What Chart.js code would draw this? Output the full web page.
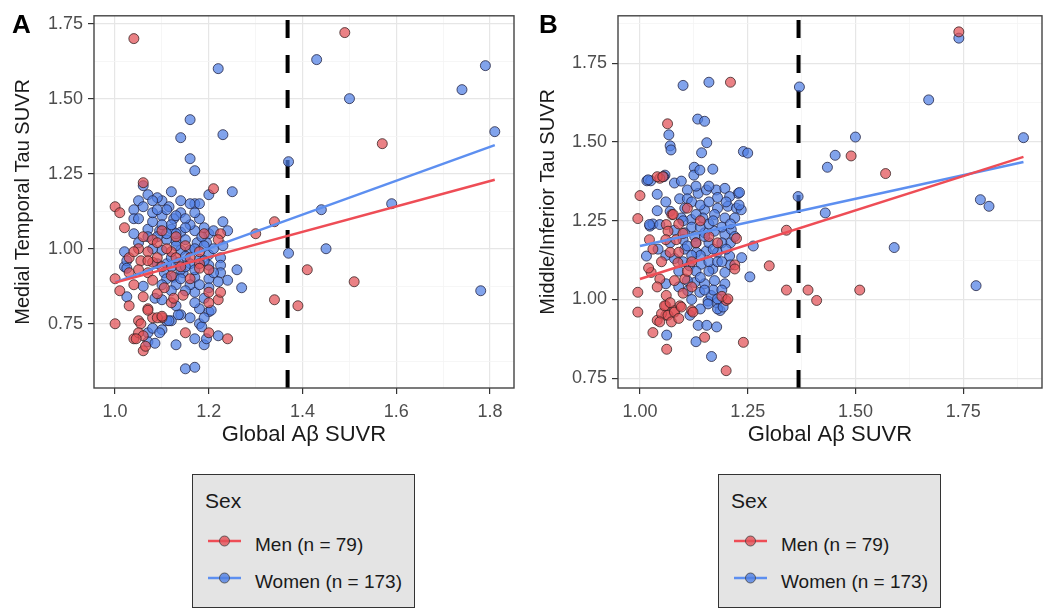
<!DOCTYPE html>
<html>
<head>
<meta charset="utf-8">
<script src="https://cdn.jsdelivr.net/npm/chart.js@4/dist/chart.umd.min.js"></script>
<style>
  body { margin: 0; background: #fff; width: 1050px; height: 615px; position: relative; overflow: hidden;
         font-family: "Liberation Sans", Arial, sans-serif; color: #1a1a1a; }
  .panel { position: absolute; top: 0; width: 525px; height: 470px; }
  .tag { position: absolute; top: 11px; font: bold 26px/1 "Liberation Sans", Arial, sans-serif; color: #000; }
  .legend { position: absolute; top: 474px; width: 223px; height: 134px; box-sizing: border-box;
            background: #e4e4e4; border: 1.5px solid #333; }
  .legend .ttl { position: absolute; left: 12px; top: 15px; font-size: 21px; line-height: 1; }
  .legend .lab { position: absolute; left: 62px; font-size: 19px; line-height: 1; }
  .legend svg { position: absolute; left: 14px; }
</style>
</head>
<body>

<div class="panel" style="left:0"><canvas id="chartA" width="525" height="470"></canvas></div>
<div class="panel" style="left:525px"><canvas id="chartB" width="525" height="470"></canvas></div>
<div class="tag" style="left:12px">A</div>
<div class="tag" style="left:539px">B</div>

<div class="legend" style="left:192px">
  <div class="ttl">Sex</div>
  <svg width="36" height="14" style="top:59px"><line x1="1" y1="7" x2="34" y2="7" stroke="#ee4d56" stroke-width="2.5"/><circle cx="17.5" cy="7" r="5" fill="rgba(226,80,86,0.8)" stroke="#444" stroke-width="0.8"/></svg>
  <div class="lab" style="top:60px">Men (n = 79)</div>
  <svg width="36" height="14" style="top:96px"><line x1="1" y1="7" x2="34" y2="7" stroke="#5d8ff0" stroke-width="2.5"/><circle cx="17.5" cy="7" r="5" fill="rgba(80,128,228,0.8)" stroke="#444" stroke-width="0.8"/></svg>
  <div class="lab" style="top:97px">Women (n = 173)</div>
</div>
<div class="legend" style="left:718px">
  <div class="ttl">Sex</div>
  <svg width="36" height="14" style="top:59px"><line x1="1" y1="7" x2="34" y2="7" stroke="#ee4d56" stroke-width="2.5"/><circle cx="17.5" cy="7" r="5" fill="rgba(226,80,86,0.8)" stroke="#444" stroke-width="0.8"/></svg>
  <div class="lab" style="top:60px">Men (n = 79)</div>
  <svg width="36" height="14" style="top:96px"><line x1="1" y1="7" x2="34" y2="7" stroke="#5d8ff0" stroke-width="2.5"/><circle cx="17.5" cy="7" r="5" fill="rgba(80,128,228,0.8)" stroke="#444" stroke-width="0.8"/></svg>
  <div class="lab" style="top:97px">Women (n = 173)</div>
</div>

<script>
// amyloid positivity cut-off (dashed line), same in both panels
const abThreshold = 1.368;

// Panel A: global Abeta SUVR vs medial temporal tau SUVR
const menA = [
  [1.04,1.70],[1.49,1.72],[1.57,1.35],[1.51,0.89],[1.41,0.93],[1.39,0.81],[1.34,0.83],[1.34,1.09],
  [1.30,1.05],[1.21,1.20],[1.06,1.22],[1.00,1.14],[1.01,1.12],[1.02,1.07],[1.00,0.90],[1.01,0.86],
  [1.03,0.81],[1.00,0.75],[1.15,0.72],[1.20,0.72],[1.24,0.70],[1.06,0.66],[1.04,0.70],[1.05,0.76],
  [1.07,0.80],[1.08,0.77],[1.10,0.77],[1.12,0.82],[1.20,0.82],[1.22,0.83],
  [1.19,1.05],[1.225,1.05],[1.06,1.04],[1.08,1.03],[1.22,1.03],[1.05,1.00],[1.07,0.99],[1.12,0.99],
  [1.18,0.99],[1.055,0.96],[1.08,0.955],[1.18,0.95],[1.05,0.93],[1.07,0.92],[1.08,0.895],[1.18,0.935],
  [1.105,0.87],[1.125,0.835],[1.145,0.845],[1.20,0.855],[1.225,0.855],[1.07,0.795],[1.09,0.77],
  [1.10,0.775],[1.055,0.75],[1.05,0.72],[1.06,0.71],[1.045,0.70],[1.065,0.675],
  [1.09,0.97],[1.10,0.94],[1.13,0.97],[1.15,1.01],[1.03,0.97],[1.04,0.88],[1.09,1.02],[1.16,0.90],
  [1.06,0.84],[1.11,1.00],[1.14,0.94],[1.12,0.91],[1.07,0.96],[1.16,0.97],[1.09,0.85],[1.03,0.92],
  [1.13,1.04],[1.10,1.06],[1.20,0.93],[1.04,0.99]
];
const womenA = [
  [1.22,1.60],[1.43,1.63],[1.50,1.50],[1.74,1.53],[1.79,1.61],[1.81,1.39],[1.78,0.86],[1.59,1.15],
  [1.45,1.00],[1.44,1.13],[1.37,1.29],[1.37,0.985],[1.16,1.43],[1.14,1.37],[1.16,1.30],[1.17,1.26],
  [1.23,1.38],[1.25,1.19],[1.20,1.18],[1.17,1.15],[1.18,1.15],[1.27,0.87],[1.26,0.93],[1.23,1.09],
  [1.24,1.06],[1.06,1.21],[1.04,1.13],[1.04,1.10],[1.02,0.99],[1.02,0.94],
  [1.15,0.60],[1.17,0.605],[1.13,0.68],[1.18,0.75],[1.22,0.71],[1.19,0.68],[1.17,0.70],[1.14,0.78],
  [1.12,0.76],[1.10,0.73],[1.07,0.72],[1.07,0.69],[1.20,0.79],
  [1.07,1.18],[1.10,1.16],[1.115,1.14],[1.10,1.11],[1.14,1.12],[1.125,1.10],[1.05,1.10],[1.07,1.065],
  [1.095,1.06],[1.12,1.065],[1.14,1.055],[1.17,1.06],[1.20,1.05],[1.04,1.05],[1.11,1.03],[1.13,1.025],
  [1.15,1.03],[1.175,1.02],[1.195,1.02],[1.10,0.995],[1.14,0.995],[1.16,0.995],[1.20,0.98],[1.225,0.97],
  [1.025,0.96],[1.11,0.95],[1.135,0.955],[1.16,0.95],[1.20,0.945],[1.225,0.945],[1.025,0.935],[1.105,0.92],
  [1.125,0.905],[1.145,0.92],[1.17,0.905],[1.20,0.90],[1.225,0.92],[1.24,0.895],[1.025,0.84],[1.06,0.875],
  [1.085,0.835],[1.17,0.855],[1.19,0.835],[1.18,0.80],[1.205,0.795],[1.17,0.82],[1.11,0.76],[1.135,0.78],
  [1.08,0.735],[1.095,0.72],[1.085,0.685],[1.115,0.76],[1.185,0.74],[1.195,0.70],
  [1.12,1.08],[1.16,1.08],[1.18,1.10],[1.08,1.09],[1.13,1.05],[1.185,1.04],[1.09,1.04],[1.15,0.975],
  [1.12,0.97],[1.18,0.965],[1.09,0.95],[1.14,0.93],[1.21,0.92],[1.13,0.88],[1.16,0.88],[1.20,0.87],
  [1.22,0.89],[1.11,0.90],[1.15,0.86],[1.21,1.00],[1.23,1.01],[1.19,1.07],[1.05,1.16],[1.06,1.14],
  [1.08,1.12],[1.09,1.17],[1.12,1.19],[1.11,1.13],[1.15,1.10],[1.17,1.12],[1.10,1.08],[1.08,1.16],
  [1.11,1.05],[1.13,1.01],[1.17,1.00],[1.19,1.01],[1.12,0.94],[1.15,0.94],[1.17,0.93],[1.19,0.96],
  [1.10,0.88],[1.12,0.86],[1.14,0.90],[1.18,0.88],[1.13,1.11],[1.16,1.15],[1.09,1.13],[1.14,1.16],
  [1.07,1.04],[1.05,1.02],[1.08,1.00],[1.21,1.06],[1.15,1.07],[1.10,0.83],[1.13,0.81],[1.16,0.77],
  [1.19,0.77]
];
const fitMenA = [[1.00,0.887],[1.81,1.23]];
const fitWomenA = [[1.00,0.888],[1.81,1.345]];

// Panel B: global Abeta SUVR vs middle/inferior temporal tau SUVR
const menB = [
  [1.74,1.85],[1.21,1.69],[1.49,1.456],[1.57,1.40],[1.34,1.22],[1.30,1.107],[1.34,1.03],[1.39,1.03],
  [1.41,0.997],[1.51,1.03],[1.22,1.11],[1.224,1.194],[1.00,1.33],[0.995,1.257],[1.064,1.558],[1.046,1.385],
  [1.04,1.39],[1.074,1.27],[0.995,1.023],[0.995,0.96],[1.03,0.895],[1.062,0.842],[1.15,0.88],[1.24,0.864],
  [1.20,0.774],[1.04,0.934],[1.06,0.95],[1.08,0.965],[1.06,0.98],[1.093,0.98],[1.12,0.965],[1.20,0.997],
  [1.19,1.01],
  [1.053,1.39],[1.077,1.27],[1.11,1.29],[1.061,1.238],[1.022,1.19],[1.065,1.217],[1.084,1.19],[1.026,1.086],
  [1.046,1.065],[1.02,1.10],[1.061,1.013],[1.05,0.955],[1.065,0.95],[1.08,0.96],[1.096,0.976],[1.073,0.929],
  [1.046,0.929],[1.057,0.98],[1.123,0.96],[1.088,1.117],[1.22,1.097],[1.104,1.065],[1.204,1.002],
  [1.10,1.21],[1.13,1.18],[1.07,1.15],[1.09,1.24],[1.12,1.12],[1.16,1.20],[1.08,1.06],[1.04,1.04],
  [1.10,1.02],[1.05,1.12],[1.09,1.15],[1.06,1.19],[1.11,1.09],[1.07,0.99],[1.03,1.16],[1.14,1.25],
  [1.18,1.18],[1.09,0.94],[1.12,1.04]
];
const womenB = [
  [1.74,1.83],[1.10,1.68],[1.16,1.69],[1.37,1.675],[1.67,1.634],[1.50,1.516],[1.89,1.514],[1.453,1.458],
  [1.435,1.42],[1.43,1.275],[1.59,1.165],[1.79,1.317],[1.81,1.296],[1.78,1.044],[1.367,1.327],[1.24,1.47],
  [1.25,1.465],[1.134,1.573],[1.15,1.566],[1.155,1.498],[1.143,1.466],[1.067,1.523],[1.07,1.488],[1.072,1.475],
  [1.126,1.42],[1.125,1.395],[1.169,1.414],[1.228,1.337],[1.263,1.17],[1.255,1.072],[1.236,1.133],[1.04,1.334],
  [1.04,1.282],[1.016,1.377],[1.025,1.377],[1.058,1.395],[1.023,1.233],[1.03,1.24],
  [1.166,0.819],[1.13,0.866],[1.062,0.887],[1.135,0.918],[1.155,0.918],[1.178,0.913],[1.116,0.95],[1.186,0.965],
  [1.158,0.995],[1.178,0.99],
  [1.139,1.411],[1.08,1.37],[1.096,1.376],[1.11,1.348],[1.135,1.337],[1.154,1.348],[1.177,1.348],[1.197,1.353],
  [1.231,1.34],[1.092,1.32],[1.11,1.32],[1.18,1.324],[1.208,1.327],[1.104,1.29],[1.15,1.285],[1.18,1.29],
  [1.204,1.296],[1.224,1.29],[1.235,1.285],[1.022,1.238],[1.046,1.238],[1.096,1.259],[1.119,1.254],[1.146,1.259],
  [1.173,1.27],[1.197,1.259],[1.22,1.259],[1.042,1.16],[1.015,1.138],[1.104,1.212],[1.127,1.20],[1.15,1.212],
  [1.173,1.217],[1.197,1.207],[1.212,1.222],[1.104,1.16],[1.131,1.15],[1.154,1.154],[1.18,1.15],[1.208,1.138],
  [1.115,1.107],[1.142,1.112],[1.169,1.097],[1.197,1.086],[1.127,1.054],[1.15,1.05],[1.173,1.06],[1.197,1.05],
  [1.111,1.028],[1.139,1.023],[1.165,1.013],[1.18,1.002],[1.158,0.986],[1.18,0.97],[1.193,0.976],[1.019,1.38],
  [1.055,1.39],
  [1.12,1.23],[1.14,1.23],[1.16,1.24],[1.19,1.23],[1.21,1.18],[1.22,1.20],[1.19,1.18],[1.16,1.18],
  [1.13,1.18],[1.10,1.19],[1.08,1.22],[1.07,1.18],[1.06,1.14],[1.08,1.13],[1.09,1.09],[1.13,1.09],
  [1.16,1.12],[1.18,1.12],[1.21,1.11],[1.14,1.07],[1.17,1.03],[1.12,1.00],[1.14,0.97],[1.06,1.05],
  [1.09,1.04],[1.12,1.31],[1.14,1.30],[1.16,1.31],[1.20,1.31],[1.13,1.27],[1.17,1.25],[1.21,1.24],
  [1.10,1.25],[1.15,1.20],[1.11,1.17],[1.14,1.14],[1.17,1.16],[1.20,1.16],[1.12,1.14],[1.10,1.12],
  [1.16,1.09],[1.19,1.12],[1.11,1.06],[1.15,1.03],[1.19,1.03],[1.13,1.36],[1.16,1.36],[1.23,1.30],
  [1.07,1.28],[1.06,1.31]
];
const fitMenB = [[1.00,1.065],[1.89,1.453]];
const fitWomenB = [[1.00,1.17],[1.89,1.437]];

// axis ranges and ticks (ggplot-style major ticks with unlabeled minor grid lines)
const xRangeA = [0.955, 1.851], yRangeA = [0.536, 1.776];
const xRangeB = [0.949, 1.933], yRangeB = [0.719, 1.901];
const xMajorA = [1.0, 1.2, 1.4, 1.6, 1.8], xMinorA = [1.1, 1.3, 1.5, 1.7];
const yMajorA = [0.75, 1.0, 1.25, 1.5, 1.75], yMinorA = [0.625, 0.875, 1.125, 1.375, 1.625];
const xMajorB = [1.0, 1.25, 1.5, 1.75], xMinorB = [1.125, 1.375, 1.625, 1.875];
const yMajorB = [0.75, 1.0, 1.25, 1.5, 1.75], yMinorB = [0.875, 1.125, 1.375, 1.625, 1.875];

const RED_PT = 'rgba(226,80,86,0.72)', BLUE_PT = 'rgba(80,128,228,0.72)';
const RED_LINE = '#ee4d56', BLUE_LINE = '#5d8ff0';

Chart.defaults.font.family = '"Liberation Sans", Arial, sans-serif';

const toXY = pairs => pairs.map(([x, y]) => ({ x, y }));

// panel border drawn like ggplot's theme_bw
const framePlugin = {
  id: 'frame',
  afterDraw(chart) {
    const { ctx, chartArea: a } = chart;
    ctx.save();
    ctx.strokeStyle = '#444';
    ctx.lineWidth = 1.4;
    ctx.strokeRect(a.left, a.top, a.right - a.left, a.bottom - a.top);
    ctx.restore();
  }
};

function axis(o) {
  const all = o.major.concat(o.minor).sort((a, b) => a - b);
  const isMajor = v => o.major.some(m => Math.abs(m - v) < 1e-9);
  return {
    type: 'linear',
    min: o.range[0],
    max: o.range[1],
    afterBuildTicks: s => { s.ticks = all.map(v => ({ value: v })); },
    afterFit: s => {
      if (o.width) s.width = o.width;
      if (o.height) s.height = o.height;
    },
    border: { display: false },
    grid: {
      color: c => (c.tick && isMajor(c.tick.value)) ? '#e6e6e6' : '#f4f4f4',
      lineWidth: c => (c.tick && isMajor(c.tick.value)) ? 1.2 : 0.8,
      tickColor: c => (c.tick && isMajor(c.tick.value)) ? '#333' : 'rgba(0,0,0,0)',
      tickLength: 6
    },
    ticks: {
      autoSkip: false,
      maxRotation: 0,
      padding: o.pad,
      color: '#4d4d4d',
      font: { size: 18 },
      callback: v => isMajor(v) ? v.toFixed(o.dp) : ''
    },
    title: { display: true, text: o.title, color: '#1a1a1a', font: { size: o.titleSize }, padding: o.titlePad }
  };
}

function drawPanel(id, p) {
  new Chart(document.getElementById(id), {
    type: 'scatter',
    data: {
      datasets: [
        { data: toXY(p.fitMen), showLine: true, borderColor: RED_LINE, borderWidth: 2.5, pointRadius: 0, order: 0 },
        { data: toXY(p.fitWomen), showLine: true, borderColor: BLUE_LINE, borderWidth: 2.5, pointRadius: 0, order: 1 },
        { data: toXY(p.men), backgroundColor: RED_PT, borderColor: 'rgba(50,30,30,0.85)', borderWidth: 0.9, pointRadius: 5, order: 2 },
        { data: toXY(p.women), backgroundColor: BLUE_PT, borderColor: 'rgba(30,30,60,0.85)', borderWidth: 0.9, pointRadius: 5, order: 3 },
        { data: [{ x: abThreshold, y: p.yRange[0] }, { x: abThreshold, y: p.yRange[1] }], showLine: true,
          borderColor: '#000', borderWidth: 4, borderDash: [18, 17], pointRadius: 0, order: 4 }
      ]
    },
    options: {
      responsive: false,
      animation: false,
      devicePixelRatio: 1,
      layout: { padding: { top: 12, right: p.padRight, bottom: 0, left: 0 } },
      plugins: { legend: { display: false }, tooltip: { enabled: false } },
      scales: {
        x: axis({ range: p.xRange, major: p.xMajor, minor: p.xMinor, dp: p.xdp, pad: 7,
                  height: 82, title: 'Global A\u03b2 SUVR', titleSize: 22, titlePad: { top: 0, bottom: 22 } }),
        y: axis({ range: p.yRange, major: p.yMajor, minor: p.yMinor, dp: 2, pad: 5,
                  width: p.yWidth, title: p.yTitle, titleSize: 20, titlePad: { top: 11, bottom: 0 } })
      }
    },
    plugins: [framePlugin]
  });
}

drawPanel('chartA', {
  men: menA, women: womenA, fitMen: fitMenA, fitWomen: fitWomenA,
  xRange: xRangeA, yRange: yRangeA, xMajor: xMajorA, xMinor: xMinorA, yMajor: yMajorA, yMinor: yMinorA,
  xdp: 1, yWidth: 94, padRight: 11, yTitle: 'Medial Temporal Tau SUVR'
});
drawPanel('chartB', {
  men: menB, women: womenB, fitMen: fitMenB, fitWomen: fitWomenB,
  xRange: xRangeB, yRange: yRangeB, xMajor: xMajorB, xMinor: xMinorB, yMajor: yMajorB, yMinor: yMinorB,
  xdp: 2, yWidth: 93, padRight: 8, yTitle: 'Middle/Inferior Tau SUVR'
});
</script>
</body>
</html>
